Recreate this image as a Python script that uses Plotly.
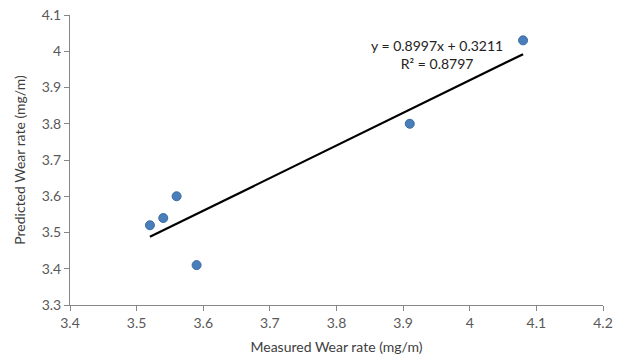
import plotly.graph_objects as go

measured = [3.52, 3.54, 3.56, 3.59, 3.91, 4.08]
predicted = [3.52, 3.54, 3.60, 3.41, 3.80, 4.03]
slope = 0.8997
intercept = 0.3211
r2 = 0.8797

x_ticks = [3.4, 3.5, 3.6, 3.7, 3.8, 3.9, 4.0, 4.1, 4.2]
x_labels = ["3.4", "3.5", "3.6", "3.7", "3.8", "3.9", "4", "4.1", "4.2"]
y_ticks = [3.3, 3.4, 3.5, 3.6, 3.7, 3.8, 3.9, 4.0, 4.1]
y_labels = ["3.3", "3.4", "3.5", "3.6", "3.7", "3.8", "3.9", "4", "4.1"]

x_min, x_max = min(measured), max(measured)
trend_x = [x_min, x_max]
trend_y = [slope * v + intercept for v in trend_x]

font_family = "Lato, 'Open Sans', sans-serif"

fig = go.Figure()
fig.add_trace(go.Scatter(
    x=trend_x, y=trend_y, mode="lines",
    line=dict(color="black", width=2.2), showlegend=False, hoverinfo="skip"))
fig.add_trace(go.Scatter(
    x=measured, y=predicted, mode="markers",
    marker=dict(size=9, color="#4A7EBB", line=dict(color="#3A6BA5", width=1)),
    showlegend=False, cliponaxis=False))

fig.add_annotation(
    x=3.951, y=3.992, xref="x", yref="y",
    text=f"y = {slope}x + {intercept}<br>R² = {r2}",
    showarrow=False, align="center",
    font=dict(family=font_family, size=14, color="#222"))

fig.update_layout(
    width=622, height=363,
    margin=dict(l=70, r=19, t=15, b=58),
    paper_bgcolor="white", plot_bgcolor="white",
    font=dict(family=font_family, size=14, color="#595959"),
    xaxis=dict(
        range=[3.4, 4.2], tickvals=x_ticks, ticktext=x_labels, automargin=False,
        ticklabeloverflow="allow",
        showgrid=False, zeroline=False, showline=True, linecolor="#868686",
        linewidth=1, ticks="outside", ticklen=5, tickcolor="#868686",
        title=dict(text="Measured Wear rate (mg/m)", font=dict(size=14, color="#404040"), standoff=12)),
    yaxis=dict(
        range=[3.3, 4.1], tickvals=y_ticks, ticktext=y_labels, automargin=False,
        ticklabeloverflow="allow",
        showgrid=False, zeroline=False, showline=True, linecolor="#868686",
        linewidth=1, ticks="outside", ticklen=5, tickcolor="#868686",
        title=dict(text="Predicted Wear rate (mg/m)", font=dict(size=14, color="#404040"), standoff=12)),
)

fig.write_html("out.html", config={"displayModeBar": False},
               post_script="document.body.style.margin='0px';")
